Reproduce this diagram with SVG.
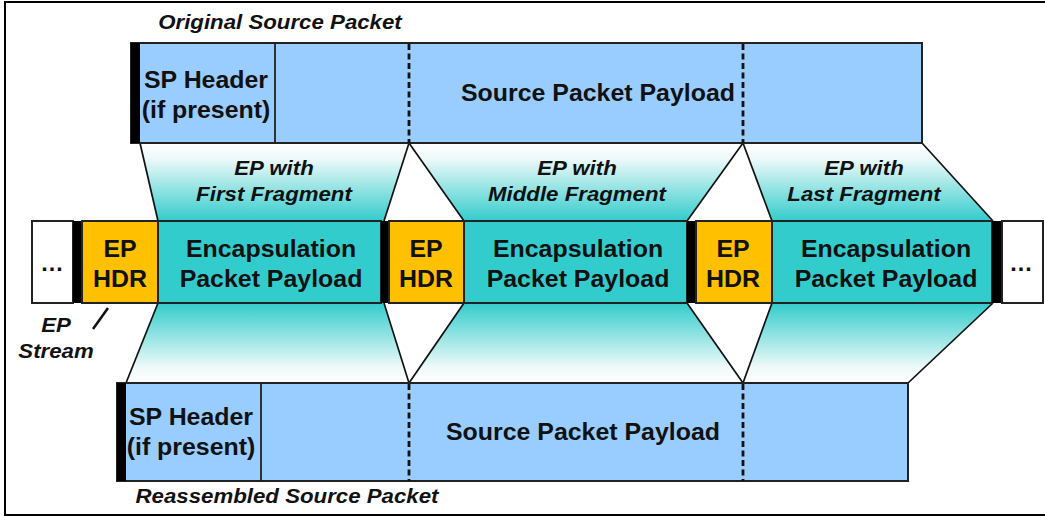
<svg xmlns="http://www.w3.org/2000/svg" width="1045" height="516" viewBox="0 0 1045 516">
<defs>
<linearGradient id="gDown" x1="0" y1="0" x2="0" y2="1">
<stop offset="0" stop-color="#FFFFFF"/>
<stop offset="0.2" stop-color="#EEF9F9"/>
<stop offset="1" stop-color="#33CCCC"/>
</linearGradient>
<linearGradient id="gUp" x1="0" y1="0" x2="0" y2="1">
<stop offset="0" stop-color="#33CCCC"/>
<stop offset="0.8" stop-color="#EEF9F9"/>
<stop offset="1" stop-color="#FFFFFF"/>
</linearGradient>
<style>
.sp{fill:#99CCFF;stroke:#222;stroke-width:2}
.tl{fill:#33CCCC;stroke:#222;stroke-width:2}
.hd{fill:#FFC000;stroke:#222;stroke-width:2}
.wt{fill:#FFFFFF;stroke:#222;stroke-width:2}
.bar{fill:#000000}
.div{stroke:#222;stroke-width:1.8}
.dash{stroke:#111;stroke-width:2.8;stroke-dasharray:6 3.5;fill:none}
.edge{stroke:#111;stroke-width:1.7;fill:none}
.t{font-family:"Liberation Sans",Arial,sans-serif;font-weight:bold;font-size:23.5px;fill:#111;text-anchor:middle}
.ti{font-family:"Liberation Sans",Arial,sans-serif;font-weight:bold;font-style:italic;font-size:21px;fill:#111;text-anchor:middle}
</style>
</defs>
<rect x="5" y="2" width="1045" height="513" fill="#FFFFFF" stroke="#000" stroke-width="2"/>

<g id="connectors">
<polygon points="140,143 409,143 384,221 158,221" fill="url(#gDown)"/>
<polygon points="409,143 743,143 687,221 464,221" fill="url(#gDown)"/>
<polygon points="743,143 922,143 993,221 772,221" fill="url(#gDown)"/>
<polygon points="158,303 384,303 409,383 126,383" fill="url(#gUp)"/>
<polygon points="464,303 687,303 743,383 409,383" fill="url(#gUp)"/>
<polygon points="772,303 993,303 908,383 743,383" fill="url(#gUp)"/>
<line class="edge" x1="140" y1="143" x2="158" y2="221"/>
<line class="edge" x1="409" y1="143" x2="384" y2="221"/>
<line class="edge" x1="409" y1="143" x2="464" y2="221"/>
<line class="edge" x1="743" y1="143" x2="687" y2="221"/>
<line class="edge" x1="743" y1="143" x2="772" y2="221"/>
<line class="edge" x1="922" y1="143" x2="993" y2="221"/>
<line class="edge" x1="158" y1="303" x2="126" y2="383"/>
<line class="edge" x1="384" y1="303" x2="409" y2="383"/>
<line class="edge" x1="464" y1="303" x2="409" y2="383"/>
<line class="edge" x1="687" y1="303" x2="743" y2="383"/>
<line class="edge" x1="772" y1="303" x2="743" y2="383"/>
<line class="edge" x1="993" y1="303" x2="908" y2="383"/>
<line x1="108" y1="308" x2="93" y2="329" stroke="#111" stroke-width="2.5"/>
</g>

<g id="original-packet">
<rect class="sp" x="131" y="43" width="791" height="100"/>
<rect class="bar" x="131" y="43" width="9" height="100"/>
<line class="div" x1="275" y1="43" x2="275" y2="143"/>
<line class="dash" x1="409" y1="44" x2="409" y2="143"/>
<line class="dash" x1="743" y1="44" x2="743" y2="143"/>
<text class="t" transform="matrix(1.06 0 0 1 206 88)"><tspan x="0">SP Header</tspan><tspan x="0" dy="30">(if present)</tspan></text>
<text class="t" transform="matrix(1.06 0 0 1 598 101)" x="0">Source Packet Payload</text>
</g>
<text id="label-original" class="ti" transform="matrix(1.06 0 0 1 280 29)" x="0">Original Source Packet</text>

<g id="ep-labels">
<text class="ti" transform="matrix(1.06 0 0 1 274 175)"><tspan x="0">EP with</tspan><tspan x="0" dy="26">First Fragment</tspan></text>
<text class="ti" transform="matrix(1.06 0 0 1 577 175)"><tspan x="0">EP with</tspan><tspan x="0" dy="26">Middle Fragment</tspan></text>
<text class="ti" transform="matrix(1.06 0 0 1 864 175)"><tspan x="0">EP with</tspan><tspan x="0" dy="26">Last Fragment</tspan></text>
</g>

<g id="ep-stream">
<rect class="wt" x="32" y="221" width="41" height="82"/>
<text class="t" x="52" y="271">…</text>
<rect class="bar" x="73" y="221" width="9" height="82"/>
<rect class="hd" x="82" y="221" width="76" height="82"/>
<text class="t" transform="matrix(1.06 0 0 1 120 257)"><tspan x="0">EP</tspan><tspan x="0" dy="30">HDR</tspan></text>
<rect class="tl" x="158" y="221" width="223" height="82"/>
<text class="t" transform="matrix(1.06 0 0 1 271 257)"><tspan x="0">Encapsulation</tspan><tspan x="0" dy="30">Packet Payload</tspan></text>
<rect class="bar" x="381" y="221" width="8" height="82"/>
<rect class="hd" x="389" y="221" width="75" height="82"/>
<text class="t" transform="matrix(1.06 0 0 1 426 257)"><tspan x="0">EP</tspan><tspan x="0" dy="30">HDR</tspan></text>
<rect class="tl" x="464" y="221" width="223" height="82"/>
<text class="t" transform="matrix(1.06 0 0 1 578 257)"><tspan x="0">Encapsulation</tspan><tspan x="0" dy="30">Packet Payload</tspan></text>
<rect class="bar" x="687" y="221" width="9" height="82"/>
<rect class="hd" x="696" y="221" width="76" height="82"/>
<text class="t" transform="matrix(1.06 0 0 1 733 257)"><tspan x="0">EP</tspan><tspan x="0" dy="30">HDR</tspan></text>
<rect class="tl" x="772" y="221" width="220" height="82"/>
<text class="t" transform="matrix(1.06 0 0 1 886 257)"><tspan x="0">Encapsulation</tspan><tspan x="0" dy="30">Packet Payload</tspan></text>
<rect class="bar" x="992" y="221" width="10" height="82"/>
<rect class="wt" x="1002" y="221" width="41" height="82"/>
<text class="t" x="1021" y="271">…</text>
</g>
<text id="label-stream" class="ti" transform="matrix(1.06 0 0 1 56 332)"><tspan x="0">EP</tspan><tspan x="0" dy="26">Stream</tspan></text>

<g id="reassembled-packet">
<rect class="sp" x="117" y="383" width="791" height="98"/>
<rect class="bar" x="117" y="383" width="9" height="98"/>
<line class="div" x1="261" y1="383" x2="261" y2="481"/>
<line class="dash" x1="409" y1="384" x2="409" y2="481"/>
<line class="dash" x1="743" y1="384" x2="743" y2="481"/>
<text class="t" transform="matrix(1.06 0 0 1 191 425)"><tspan x="0">SP Header</tspan><tspan x="0" dy="30">(if present)</tspan></text>
<text class="t" transform="matrix(1.06 0 0 1 583 440)" x="0">Source Packet Payload</text>
</g>
<text id="label-reassembled" class="ti" transform="matrix(1.06 0 0 1 287 503)" x="0">Reassembled Source Packet</text>
</svg>
